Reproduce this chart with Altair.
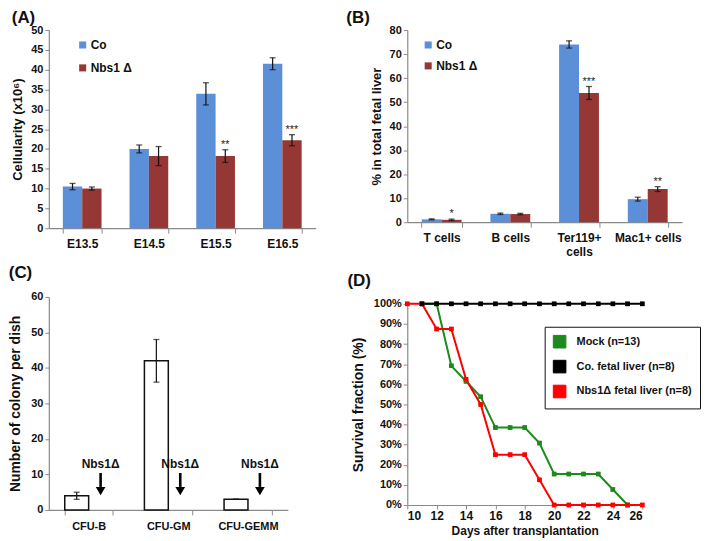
import altair as alt
import pandas as pd

FONT = "Liberation Sans"
BLUE = "#5B8FD8"
DRED = "#953735"
AXC = "#8a8a8a"

# ---------------- Panel A data ----------------
a_stages = ["E13.5", "E14.5", "E15.5", "E16.5"]
a_co = [10.5, 20.0, 33.9, 41.5]
a_co_err = [0.8, 1.0, 2.8, 1.5]
a_nbs = [10.0, 18.2, 18.2, 22.2]
a_nbs_err = [0.4, 2.4, 1.6, 1.4]
a_sig = ["", "", "**", "***"]

groups_ab = ["Co", "Nbs1 Δ"]

# ---------------- Panel B data ----------------
b_cells = ["T cells", "B cells", "Ter119+|cells", "Mac1+ cells"]
b_co = [1.2, 3.5, 74.0, 9.6]
b_co_err = [0.2, 0.3, 1.5, 0.8]
b_nbs = [1.0, 3.4, 53.8, 13.8]
b_nbs_err = [0.3, 0.3, 2.7, 1.0]
b_sig = ["*", "", "***", "**"]

# ---------------- Panel C data ----------------
c_types = ["CFU-B", "CFU-GM", "CFU-GEMM"]
c_co = [4.0, 42.0, 3.0]
c_co_err = [1.0, 6.0, 0.0]
c_groups = ["Co", "Nbs1Δ"]
c_arrow_label = "Nbs1Δ"

# ---------------- Panel D data ----------------
d_series = ["Mock (n=13)", "Co. fetal liver (n=8)", "Nbs1Δ fetal liver (n=8)"]
d_colors = ["#1E8A1E", "#000000", "#FF0000"]
d_mock_days = list(range(11, 26))
d_mock = [100, 100, 69.2, 61.5, 53.8, 38.5, 38.5, 38.5, 30.8, 15.4, 15.4, 15.4, 15.4, 7.7, 0]
d_co_days = list(range(11, 27))
d_co = [100] * 16
d_nbs_days = list(range(10, 27))
d_nbs = [100, 100, 87.5, 87.5, 62.5, 50, 25, 25, 25, 12.5, 0, 0, 0, 0, 0, 0, 0]


def long_df(cats, co, co_err, nbs, nbs_err, sig):
    df = pd.DataFrame({
        "cat": cats + cats,
        "group": [groups_ab[0]] * len(cats) + [groups_ab[1]] * len(cats),
        "value": co + nbs,
        "err": co_err + nbs_err,
        "sig": [""] * len(cats) + sig,
    })
    df["lo"] = df["value"] - df["err"]
    df["hi"] = df["value"] + df["err"]
    return df


def title(t, offset, dx=0):
    return alt.TitleParams(t, anchor="start", frame="bounds", fontSize=17,
                           fontWeight="bold", font=FONT, offset=offset, dx=dx, color="#111")


def grouped(df, cats, ymax, ystep, ytitle, w, h, lx, ly, rowpad, ttl, toff, tdx):
    x = alt.X("cat:N", sort=cats, title=None,
              scale=alt.Scale(paddingInner=0.42, paddingOuter=0.21),
              axis=alt.Axis(labelAngle=0, tickBand="extent", ticks=True, tickSize=5,
                            labelPadding=5, labelFontSize=12,
                            labelExpr="split(datum.label, '|')"))
    xo = alt.XOffset("group:N", sort=groups_ab, scale=alt.Scale(domain=groups_ab))
    yscale = alt.Scale(domain=[0, ymax], nice=False)
    yaxis = alt.Axis(values=list(range(0, ymax + 1, ystep)), grid=False, title=ytitle,
                     tickSize=4, titleFontSize=13, titlePadding=6)
    y = alt.Y("value:Q", scale=yscale, axis=yaxis)
    base = alt.Chart(df).encode(x=x, xOffset=xo)
    bars = base.mark_bar().encode(
        y=y,
        color=alt.Color("group:N", sort=groups_ab,
                        scale=alt.Scale(domain=groups_ab, range=[BLUE, DRED]),
                        legend=alt.Legend(title=None, orient="none", legendX=lx, legendY=ly,
                                          symbolType="square", symbolSize=50, labelFontSize=12,
                                          labelFontWeight="bold", labelFont=FONT, rowPadding=rowpad,
                                          labelOffset=2, symbolStrokeWidth=0, labelColor="#111")),
    )
    ylo = alt.Y("lo:Q", scale=yscale, axis=yaxis)
    yhi = alt.Y("hi:Q", scale=yscale, axis=yaxis)
    rule = base.mark_rule(color="#111", strokeWidth=1.2).encode(y=ylo, y2="hi:Q")
    cap_lo = base.mark_tick(color="#111", size=6, thickness=1.3).encode(y=ylo)
    cap_hi = base.mark_tick(color="#111", size=6, thickness=1.3).encode(y=yhi)
    stars = base.mark_text(fontSize=11, font=FONT, color="#222", baseline="alphabetic", dy=-2).encode(
        y=yhi, text="sig:N")
    return alt.layer(bars, rule, cap_lo, cap_hi, stars).properties(
        width=w, height=h, title=title(ttl, toff, tdx))


dfA = long_df(a_stages, a_co, a_co_err, a_nbs, a_nbs_err, a_sig)
dfB = long_df(b_cells, b_co, b_co_err, b_nbs, b_nbs_err, b_sig)

chartA = grouped(dfA, a_stages, 50, 5, "Cellularity (x10⁶)", 268, 199, 28, 9, 11, "(A)", -3, 0)
chartB = grouped(dfB, b_cells, 80, 10, "% in total fetal liver", 276, 193, 15, 9, 9, "(B)", -3, -24)

# ---------------- Panel C ----------------
dfC = pd.DataFrame({"cat": c_types, "group": [c_groups[0]] * 3, "value": c_co, "err": c_co_err})
dfC["lo"] = dfC["value"] - dfC["err"]
dfC["hi"] = dfC["value"] + dfC["err"]
dfC2 = pd.DataFrame({"cat": c_types, "group": [c_groups[1]] * 3, "label": [c_arrow_label] * 3})

cx = alt.X("cat:N", sort=c_types, title=None,
           scale=alt.Scale(paddingInner=0.4, paddingOuter=0.2),
           axis=alt.Axis(labelAngle=0, tickBand="extent", ticks=True, tickSize=5,
                         labelPadding=6, labelFontSize=11))
cxo = alt.XOffset("group:N", sort=c_groups, scale=alt.Scale(domain=c_groups))
cy_scale = alt.Scale(domain=[0, 60], nice=False)
cy_axis = alt.Axis(values=list(range(0, 61, 10)), grid=False, title="Number of colony per dish",
                   tickSize=4, titleFontSize=14, titlePadding=8)
cy = alt.Y("value:Q", scale=cy_scale, axis=cy_axis)
cbase = alt.Chart(dfC).encode(x=cx, xOffset=cxo)
cbars = cbase.mark_bar(fill="white", stroke="#111", strokeWidth=1.5).encode(y=cy)
crule = cbase.mark_rule(color="#111", strokeWidth=1.2).encode(
    y=alt.Y("lo:Q", scale=cy_scale, axis=cy_axis), y2="hi:Q")
ccap1 = cbase.mark_tick(color="#111", size=6, thickness=1.3).encode(
    y=alt.Y("lo:Q", scale=cy_scale, axis=cy_axis))
ccap2 = cbase.mark_tick(color="#111", size=6, thickness=1.3).encode(
    y=alt.Y("hi:Q", scale=cy_scale, axis=cy_axis))
abase = alt.Chart(dfC2).encode(x=cx, xOffset=cxo)
ashaft = abase.mark_rule(color="#000", strokeWidth=2.6).encode(
    y=alt.Y(datum=10.4, scale=cy_scale, axis=cy_axis), y2=alt.Y2(datum=6.5))
ahead = abase.mark_point(shape="triangle-down", filled=True, size=95, color="#000", opacity=1).encode(
    y=alt.Y(datum=5.3, scale=cy_scale, axis=cy_axis))
atext = abase.mark_text(fontSize=12, fontWeight="bold", font=FONT, color="#111").encode(
    y=alt.Y(datum=12.9, scale=cy_scale, axis=cy_axis), text="label:N")
chartC = alt.layer(cbars, crule, ccap1, ccap2, ashaft, ahead, atext).properties(
    width=240, height=214, title=title("(C)", 9))

# ---------------- Panel D ----------------
dfD = pd.concat([
    pd.DataFrame({"day": d_mock_days, "series": d_series[0], "surv": d_mock}),
    pd.DataFrame({"day": d_nbs_days, "series": d_series[2], "surv": d_nbs}),
    pd.DataFrame({"day": d_co_days, "series": d_series[1], "surv": d_co}),
], ignore_index=True)

dx = alt.X("day:Q", scale=alt.Scale(domain=[10, 26], nice=False),
           axis=alt.Axis(values=list(range(10, 27, 2)), grid=False, title="Days after transplantation",
                         tickSize=4, labelFontSize=12, titleFontSize=12, titlePadding=4))
dy = alt.Y("surv:Q", scale=alt.Scale(domain=[0, 100], nice=False),
           axis=alt.Axis(values=list(range(0, 101, 10)), grid=False, title="Survival fraction (%)",
                         labelExpr="datum.value + '%'", tickSize=4, labelFontSize=11,
                         titleFontSize=14, titlePadding=8))
dcolor = alt.Color("series:N", sort=d_series,
                   scale=alt.Scale(domain=d_series, range=d_colors),
                   legend=alt.Legend(title=None, orient="none", legendX=138, legendY=23,
                                     symbolType="square", symbolSize=160, symbolStrokeColor="#222",
                                     symbolStrokeWidth=1, labelFontSize=11, labelFontWeight="bold",
                                     labelFont=FONT, labelOffset=10, rowPadding=7, padding=8,
                                     strokeColor="#111", fillColor="white", labelLimit=300,
                                     labelColor="#111"))
dpts = alt.Chart(dfD).mark_square(size=20, opacity=1).encode(x=dx, y=dy, color=dcolor)
dlines = [
    alt.Chart(dfD).transform_filter(alt.datum.series == s).mark_line(strokeWidth=2).encode(
        x=dx, y=dy, color=dcolor)
    for s in [d_series[0], d_series[2], d_series[1]]
]
chartD = alt.layer(dpts, *dlines, dpts).properties(width=236, height=202, title=title("(D)", 8, -4))

left = alt.vconcat(chartA, chartC, spacing=15).resolve_scale(
    x="independent", y="independent", color="independent", xOffset="independent")
right = alt.vconcat(chartB, chartD, spacing=15).resolve_scale(
    x="independent", y="independent", color="independent", xOffset="independent")
chart = alt.hconcat(left, right, spacing=30).resolve_scale(
    x="independent", y="independent", color="independent", xOffset="independent"
).configure(font=FONT, padding=0).configure_view(stroke=None).configure_axis(
    labelFont=FONT, labelFontWeight="bold", labelColor="#111", labelFontSize=11,
    titleFont=FONT, titleFontWeight="bold", titleColor="#111",
    domainColor=AXC, tickColor=AXC, domainWidth=1.2,
)

chart.save("out.html", embed_options={"renderer": "svg", "actions": False})
